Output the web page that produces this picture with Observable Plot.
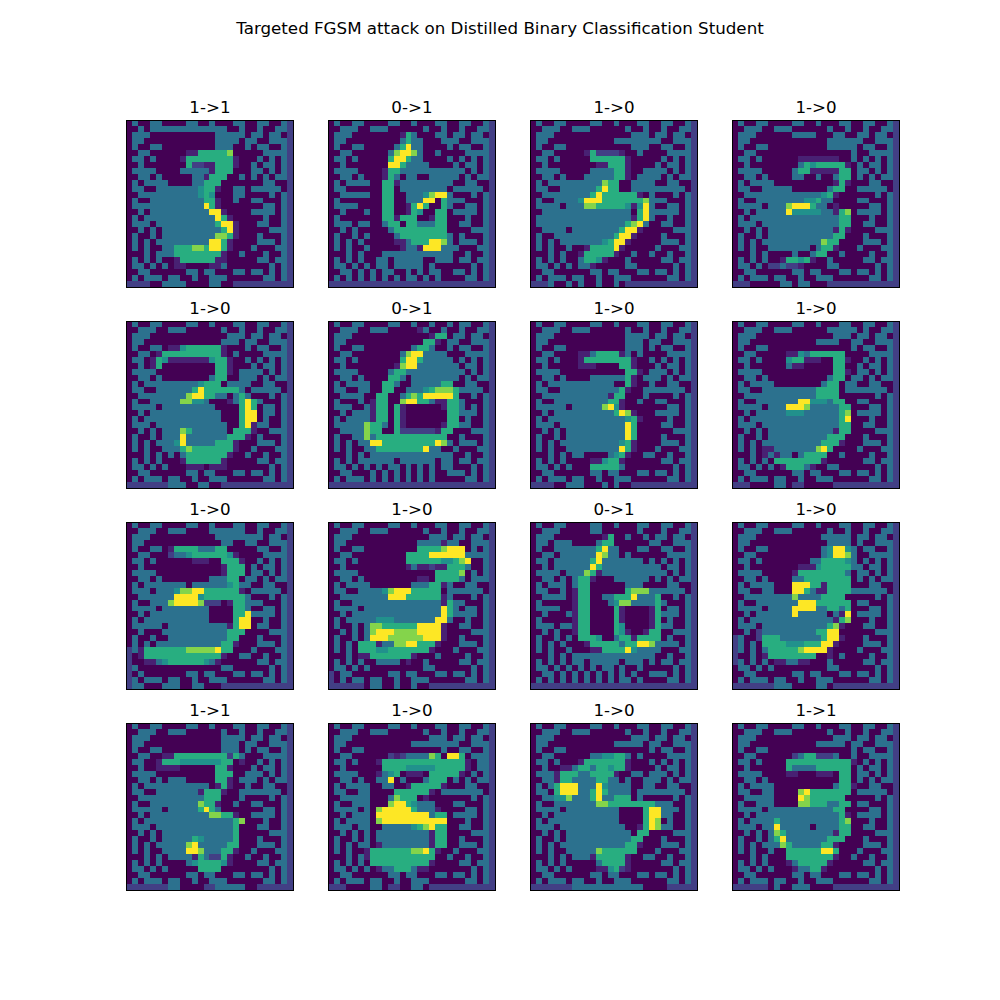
<!DOCTYPE html>
<html><head><meta charset="utf-8">
<script src="https://cdn.jsdelivr.net/npm/d3@7"></script>
<script src="https://cdn.jsdelivr.net/npm/@observablehq/plot@0.6"></script>
<style>
body{margin:0;background:#fff;font-family:"DejaVu Sans",sans-serif;}
#wrap{position:relative;width:1000px;height:1000px;}
#title{position:absolute;top:18px;left:0;width:1000px;text-align:center;font-size:16.7px;line-height:20px;color:#000;}
</style></head><body>
<div id="wrap"><div id="title">Targeted FGSM attack on Distilled Binary Classification Student</div><div id="chart"></div></div>
<script>
// panel titles (true -> targeted)
const titles = ["1->1","0->1","1->0","1->0","1->0","0->1","1->0","1->0","1->0","1->0","0->1","1->0","1->1","1->0","1->0","1->1"];
// pixel value codes (perturbed image value)
const codes = {".":-0.3,"p":-0.15,"n":0,"t":0.3,"s":0.5,"g":0.7,"l":1.0,"y":1.3};

const img1 = [
".t..tt. ...tt.. t...tt. .tt..tn",
"..t.ttt ttttttt ttt..t. .t..ttn",
".ttt... ....... .ttttt. tt.tt.n",
".tt.... ....... .tttt.t t..tttn",
".t..tt. ....... .ttt..t .tt..tn",
"..tt... ...ppgg gggl... ..ttttn",
".tt.t.. ..pgggg ggggp.. .t.t.tn",
"..t.... ...gnnp pgggp.. t.tt.tn",
".tttt.. ..ttttt pggg... tt.t.tn",
"..tt.t. ....ttp ggg..t. t.t.ttn",
".t.tttt ....ttg gg..... ..tt..n",
".tt..tt tttttsg gp..tt. ttttt.n",
"..ttttt tttttsg s...tt. ...t.tn",
".t..ttt ttttttg gp..t.. tt...tn",
".tttttt tttttty gp..... ..tt.tn",
"..t.ttt ttttttt yyp.... tttt.tn",
".t.tttt ttttttt tygp... ..t..tn",
".ttt.tt ttttttt tgyyp.. .tt..tn",
"..t.t.t ttttttt ttgyp.. ...tttn",
".t..t.t ttttttt tllgp.. .t...tn",
".t.t.tt ttttttt yygp... .ttt.tn",
".t.t..t tgggllg yygp... t...ttn",
"...t.tt tgggggg ggp..t. ..t..tn",
".t.t.t. .pggggg gpp.... .tt.ttn",
".tt.t.t .pp.... ppt.... ...t.tn",
"..tt... ...tt.t t...tt. tt.t.tn",
".t.ttt. tt..t.. ttt.... ..tt.tn",
"nnnn..t ttt.... tt..nnn nnnnnnn"];

const img2 = [
".t..tt. ...tt.. t...tt. .tt..tn",
"..ttt.. ttt.... ..t..t. .t..ttn",
".ttt... .....pg t...tt. tt.tt.n",
".tt.... .....tg tt...tt t..tttn",
".t..tt. ....tgy tt....t .tt..tn",
"..tt... ...tlyy lt..t.. ..ttttn",
".tt.t.. ...gyyg tt....t .t.t.tn",
"..t.... ...yygt ttt.... t.tt.tn",
".tttt.. ..pggtt ttttttt tt.t.tn",
"..tt.t. ..pgt.t t..tttt t.t.ttn",
".t.tttt ..ggptt ttttttt ..tt..n",
".tt.... ..gg.tt tttttt. ttttt.n",
"..ttttt ..gg..t ttslyyt ...t.tn",
".t..... ..gg..t ttyy.gt tt...tn",
".tttt.. ..gg..p gyg..gt ..tt.tn",
"..t...t ..gg..p gs..gg. tttt.tn",
".t..... ..ggpgg g..pgg. ..t..tn",
".ttt.tt ..tgg.g gtttgg. .tt..tn",
"..t.t.. ...tggg gggggg. ...tttn",
".t..t.t ....tgg ggggggt .t...tn",
".t.t.t. ....ppt gggyylt .ttt.tn",
".t.t..t .....pt tpyyytt t...ttn",
"...t.t. ..ttttt ttttttt ..t..tn",
".t.t.t. .tt.ttt tt..ttt .tt.ttn",
".tt.t.t .tt.ttt tt.t... ...t.tn",
"..tt.t. t.tt..t .t.tt.. tt.t.tn",
".t.t.t. t.t.t.t t.t.t.. ..tt.tn",
"nnnnnnn nnnnnnn nnnnnnn nnnnnnn"];

const img3 = [
".t..tt. ...tt.. t...tt. .tt..tn",
"..ttt.. ttt.... ..t..t. .t..ttn",
".ttt... ....... ...ttt. tt.tt.n",
".tt.... ....... ttttttt t..tttn",
".t..tt. ....... ...ttt. .tt..tn",
"..tt... ..pgnnn np..t.. ..ttttn",
".tt.t.. ...gggg ggp.... .t.t.tn",
"..t.... ....ppg ggp.... t.tt.tn",
".tttt.. ...tttt ggp..tt tt.t.tn",
"..tt.t. ..ttttt ggp.ttt t.t.ttn",
".t.tttt tttttlg g..tttt ..tt..n",
".tt..tt ttttgyg g..tttt ttttt.n",
"..ttttt tttgygg ggggp.t ...t.tn",
".t..ttt tsyyygg ggggglt tt...tn",
".tttt.t ttllggg ggspsyt ..tt.tn",
"..ttttt ttttttt ttt.gyt tttt.tn",
".tttttt ttttttt tttpgyt ..t..tn",
".tttttt ttttttt ttglyt. .tt..tn",
"..tttt. ttttttt tgyyp.. ...tttn",
".t..ttt ttttttt gyyp... .t...tn",
".t.t.tt tttttsg yyp.... .ttt.tn",
".t.t..t ..pgggg yp..... t...ttn",
"...t.t. .pggggg p..t..t ..t..tn",
".t.t.t. .tggsp. ..t.... .tt.ttn",
".tt.t.t .ttp... ..tt... ...t.tn",
"..tt... ...tt.t t...tt. tt.t.tn",
".t.ttt. tt..t.. ttt.... ..tt.tn",
"nnnt..t .t..t.. t.nnnnn nnnnnnn"];

const img4 = [
".t..tt. ...tt.. t...tt. .tt..tn",
"..ttt.. ttt.... ..t..t. .t..ttn",
".ttt... ...tttt ...tt.. tt.tt.n",
".tt.... ....... ..ttttt t..tttn",
".t..tt. ....... ..ttttt .tt..tn",
"..tt... ....... ......t ..ttttn",
".tt.t.. ....ppp pppp..t .t.t.tn",
"..t.... ....tgs gggggp. t.tt.tn",
".tttt.. ...tggp ppppgg. tt.t.tn",
"..tt.t. ...tt.. t..tgg. t.t.ttn",
".t.tttt ....... ...pgp. ..tt..n",
".tt..tt ttt.... ..tgg.. ttttt.n",
"..ttttt ttttttt tsgp... ...t.tn",
".t..ttt tttttss gtt.... tt...tn",
".tttt.t ttlyyyg tt.p... ..tt.tn",
"..t.ttt ttyssss sttpgl. tttt.tn",
".t.tttt ttttttt ttttgg. ..t..tn",
".ttt.tt ttttttt ttttgg. .tt..tn",
"..t.t.t ttttttt tttpgp. ...tttn",
".t..t.t ttttttt tttgg.. .t...tn",
".t.t.tt ttttttt tlgg... .ttt.tn",
".t.t..t tttttt. tggp... t...ttn",
"...t.t. ...t..t gg..t.. ..t..tn",
".t.t.t. .pggsgp ..t.... .tt.ttn",
".tt.t.n ntnnp.. ..tt... ...t.tn",
"..tt... ...tt.t t...tt. tt.t.tn",
".t.ttt. tt..t.. ttt.... ..tt.tn",
"nnn.... .tt.tt. ..nnnnn nnnnnnn"];

const img5 = [
".t..tt. ...tt.. t...tt. .tt..tn",
"..ttt.. ttt.... ..t..t. .t..ttn",
".ttt... ....... ...ttt. tt.tt.n",
".tt.... ....... ..ttt.t t..tttn",
".t..tt. ppsgggg ggp...t .tt..tn",
"..tt.pg ggggggg ggp.t.. ..ttttn",
".tt.pgs ppppppp sggp..t .t.t.tn",
"..t.pg. ....... .ggp... t.tt.tn",
".tttt.. ....... .ggp.tt tt.t.tn",
"..tt.t. ....... tgg..tt t.t.ttn",
".t.tttt tttttsg gg.tttt ..tt..n",
".tt..tt ttttgyg gggggt. ttttt.n",
"..ttttt tttlyyg gtt.tgt ...t.tn",
".t..ttt ttllsst ...ptgy gt...tn",
".tttt.t ttttttt t....gy g.tt.tn",
"..t.ttt ttttttt tt...gy y.tt.tn",
".t.tttt ttttttt tt...gy y.t..tn",
".ttt.tt ttttttt ttt..gy ptt..tn",
"..t.t.t ttlgttt ttt.ggg p..tttn",
".t..t.t ttytttt tttgggp .t...tn",
".t.t.tt tsytttt tgggp.. .ttt.tn",
".t.t..t ttglggg ggggp.. t...ttn",
"...t.t. t.tgggg gggp..t ..t..tn",
".t.t.t. ..pgggg ggp.... .tt.ttn",
".tt.t.t ...ppp. ppp.... ...t.tn",
"..tt... ...tt.t t...tt. tt.t.tn",
".t.ttt. tt..t.. ttt.... ..tt.tn",
"nnnnnnn ttt..tt ..nnnnn nnnnnnn"];

const img6 = [
".t..tt. ...tt.. t..t..t .tt..tn",
"..ttt.. ttt.... .pt..t. .t..ttn",
".ttt... ....... ...pgg. tt.tt.n",
".tt.... ....... ..ggp.t t..tttn",
".t..tt. ....... tggt..t .tt..tn",
"..tt... .....tl yytttt. ..ttttn",
".tt.t.. .....gy ygttttt .t.t.tn",
"..t.... ....ply ytttttt t.tt.tn",
".tttt.. ...tggt ttttttt tt.t.tn",
"..tt.t. ...ggt. ttttttt t.t.ttn",
".t.tttt ..ggt.. tttttgg ..tt..n",
".tt..tt ..gg..t ttsglll gtttt.n",
"..tttt. .gg..tg lgyyyyy g..t.tn",
".t...t. pgg..ly yggtppg gt...tn",
".ttt..t pgg.gp. .....pg gt.t.tn",
"..t.ttt pgg.gp. ......g gttt.tn",
".t.tttt pgg.gp. ......g g.t..tn",
".tttttl ggt.gp. .....pg gtt..tn",
"..ttttl gg..gnn nnnnpgg ...tttn",
".t..ttl tgggggg gggggg. .t...tn",
".t.t.tt yyggggg ggggylt .ttt.tn",
".t.t..t tgggggg ggytt.. t...ttn",
"...t.t. ttttttt ttttttt ..t..tn",
".t.t.tt tttt.tt tttt.tt .tt.ttn",
".tt.t.t .t.tt.t .t.t.tt ...t.tn",
"..tt... t.t.t.t .t.t..t tt.t.tn",
".t.ttt. t.t.t.t .t.t... ..tt.tn",
"nnnnnnn nnnnnnn nnnnnnn nnnnnnn"];

const img7 = [
".t..tt. ...tt.. t...tt. .tt..tn",
"..ttt.. ttt.... ..t..t. .t..ttn",
".ttt... ....... ..tttt. tt.tt.n",
".tt.... ....... ..ttt.t t..tttn",
".t..tt. ....... ..ttt.t .tt..tn",
"..tt... .pptggg gpt.t.. ..ttttn",
".tt.t.. .pggggg gggp..t .t.t.tn",
"..t.... .ppp... .ggp... t.tt.tn",
".tttt.. ....... ..ggp.t tt.t.tn",
"..tt.t. ...tttt ttgp.tt t.t.ttn",
".t.tttt ttttttt ..gp..t ..tt..n",
".tt..tt ttttttt tgp..tt ttttt.n",
"..ttttt ttttttp gg...t. ...t.tn",
".t..ttt ttttttg gp..t.. tt...tn",
".ttttt. tttttly sp..... ..tt.tn",
"..t.ttt ttttttt gylp... tttt.tn",
".t.tttt ttttttt ttsgp.. ..t..tn",
".ttt.tt ttttttt ttyg... .tt..tn",
"..t.t.t ttttttt ttyg... ...tttn",
".t..t.t ttttttt ttyg... .t...tn",
".t.t.tt ttttttt tsgp... .ttt.tn",
".t.t..t ttttttt tygp... t...ttn",
"...t.t. tt....t sgp..tt ..t..tn",
".t.t.t. ...ppsg gp..... .tt.ttn",
".tt.t.t ...gggg gt..... ...t.tn",
"..tt... ...tt.t t...tt. tt.t.tn",
".t.ttt. tt..t.. ttt.... ..tt.tn",
"nnnn..t tt...t. t..nnnn nnnnnnn"];

const img8 = [
".t..tt. ...tt.. t...tt. .tt..tn",
"..ttt.. ttt.... ..ttttt .t..ttn",
".ttt... ....... ...ttt. tt.tt.n",
".tt.... ....... tttt..t t..tttn",
".t..tt. ....... ......t .tt..tn",
"..tt... ..ppstg ggggg.. ..ttttn",
".tt.t.. ..sggpp p..ggp. .t.t.tn",
"..t.... ..tpp.. ...gg.. t.tt.tn",
".tttt.. ....... ...ggp. tt.t.tn",
"..tt.t. ....... ..tgg.t t.t.ttn",
".t.tttt ....... .tgg.tt ..tt..n",
".tt..tt ttttttt gggg.tt ttttt.n",
"..ttttt ttttttt gggg... ...t.tn",
".t..ttt ttttyys sstgg.. tt...tn",
".tttt.t ttyyylt ttttgg. ..tt.tn",
"..t.ttt ttssstt ttttgl. tttt.tn",
".t.tttt ttttttt ttttgy. ..t..tn",
".ttt.tt ttttttt ttttgg. .tt..tn",
"..t.t.t ttttttt tttpgg. ...tttn",
".t..t.t ttttttt ttggg.. .t...tn",
".t.t.tt ttttttt tgggp.. .ttt.tn",
".t.t.pp ttttttt lyg.... t...ttn",
"...t.pt ptt.tgg gg..t.. ..t..tn",
".t.t.t. ggggggg gp..... .tt.ttn",
".tt.t.t .pgggtp ..tt... ...t.tn",
"..tt... ...tt.t t...tt. tt.t.tn",
".t.ttt. tt..t.. ttt.... ..tt.tn",
"nnn.... tt.nn.. ...nnnn nnnnnnn"];

const img9 = [
".t..tt. ...tt.. t...tt. .tt..tn",
"..ttt.. ttt.... tttttt. .t..ttn",
".ttt... ....... .tttttt tt.tt.n",
".tt.... ....... ..tt..t t..tttn",
".t..tt. pggggtt tgg.... .tt..tn",
"..tt... nttsggg gggsp.. ..ttttn",
".tt.t.. ....ppp ..gggp. .t.t.tn",
"..t.... ....... ..pggg. t.tt.tn",
".tttt.. ....... ..pggg. tt.t.tn",
"..tt.t. ....... tttgg.t t.t.ttn",
".t.tttt ttt.ttt tttsgtt ..tt..n",
".ttt.tt tsllyyg gggggp. ttttt.n",
"..ttttt tyyyysg ggggggt ...t.tn",
".t..ttt lyyyyln nn.pggt tt...tn",
".tttt.t ttttttt ....ggt ..tt.tn",
"..t.ttt ttttttt ....ggy tttt.tn",
".t.tttt ttttttt ....gyy ..t..tn",
".ttttt. ttttttt tttpgyy .tt..tn",
"..t...t ttttttt tttggg. ...tttn",
".t..t.. ttttttt tttgg.. .t...tn",
".t.t.tt ttttttt ttggp.. .ttt.tn",
"ntpgggg gggllll lygg... t...ttn",
"n.pgggg ggggggg ggp..tt ..t..tn",
"n..ppts ggggggs tp..... .tt.ttn",
"nt..... ....... ..tt... ...t.tn",
"n.t.... ...tt.t t...tt. tt.t.tn",
"nt.ttt. tt..t.. ttt.... ..tt.tn",
"ntt...t tt..tt. ..nnnnn nnnnnnn"];

const img10 = [
".t..tt. ...tt.. t...tt. .tt..tn",
"..ttt.. ttt.... ..t..t. .t..ttn",
".ttt... ....... ...ttt. tt.tt.n",
".tt.... ....... .ttttpt t..tttn",
".t..tt. ....... .ggggly yy.t.tn",
"..tt... ......g gggyyyy yyttttn",
".tt.t.. ......g gggggss gly..tn",
"..t.... ......p tppnppg ggt..tn",
".tttt.. ....... ....ggg gl.t.tn",
"..tt.t. ....... .pp.ggg gt.tttn",
".t.tttt ....... tttggpt ..tt..n",
".tt..tt ttslyyy ggggg.t ttttt.n",
"..ttttt tttyyyg gggggpt ...t.tn",
".t..ttt ttttttt tttttpg tt...tn",
".tttt.t ttttttt tttttyg t.tt.tn",
"..t.ttt ttttttt tttttyg tttt.tn",
".t.tttt tsssttt ttttyyt ..t..tn",
".t..t.t llggggg gyyyyp. .tt..tn",
"..t.t.t lyyylll lyyyyp. ...tttn",
".t..t.t yyyllll llyyyp. .t...tn",
".t.t.gg gpttlly ygggp.. .ttt.tn",
".t.t.gg gssgggg gggp... t...ttn",
"...t.pp ggggggg p...t.. ..t..tn",
".t.t.t. .tttt.p ..t.... .tt.ttn",
".tt.t.t ....... ..tt... ...t.tn",
"n.tt... ...tt.t t...tt. tt.t.tn",
"n.t.tt. tt..t.. ttt.... ..tt.tn",
"nnnnnn. tt..t.. t..nnnn nnnnnnn"];

const img11 = [
".t..tt. ...tt.. t...tt. .tt..tn",
"..ttt.. ...tt.. ....t.. .t..ttn",
".ttt... .....pg ..t..t. tt.tt.n",
".tt.ttt ....tgg ......t t..tttn",
".t..ttt ttttgyt t...tt. .tt..tn",
"..tt.tt ttttylt t.t.... ..ttttn",
".tt.ttt tttgytt ttttt.t .t.t.tn",
"..t.ttt tttygtt ttttttt t.tt.tn",
".tttt.t ttlgptt ttttttt tt.t.tn",
"..tt.t. tggp... tttttt. t.t.ttn",
".t.ttt. tgg.... ..ttt.. ..tt..n",
".tt..t. pgg.... ..glllt ttttt.n",
"..tttt. pgg..tt gggyttt g..t.tn",
".t..... pgg...t slltttt gt...tn",
".tttt.. pgg.... gp....p g.tt.tn",
"..t...t pgg.... gp....p gttt.tn",
".t..... pgg.... gp....p g.t..tn",
".ttt.tt pgg.... gs....p gtt..tn",
"..t.t.. pgg.... gsp..pg g..tttn",
".t..t.t .gggs.. tggpggg g.t..tn",
".t.t.t. ..pgggg gtggyyl tttt.tn",
".t.t..t ...ppgg ggysttt t...ttn",
"...t.t. ttttttt ttttttt ..t..tn",
".t.t.t. tt.tttt t.ttt.t .tt.ttn",
".tt.t.t .t.t.tt .t..t.. ...t.tn",
"..tt.t. t.t.t.t .t.t..t tt.t.tn",
".t.t.t. t.t.t.t .tt.t.. ..tt.tn",
"nnnnnnn nnnnnnn nnnnnnn nnnnnnn"];

const img12 = [
".t..tt. ...tt.. t...tt. .tt..tn",
"..ttt.. ttt.... ..t..t. .t..ttn",
".ttt... ....... .ttttt. tt.tt.n",
".tt.... ....... ..tttt. t..tttn",
".t..tt. ....... .tsyyst .tt..tn",
"..tt... ....... .tsyylt ..ttttn",
".tt.t.. ......t tggggst .t.t.tn",
"..t.... ....ppp sgggggt t.tt.tn",
".tttt.. ...pggg gggggt. tt.t.tn",
"..tt.t. ...ttgg gggggg. t.t.ttn",
".t.tttt ...yyyg gpgggg. ..tt..n",
".tt..tt ...yygt ppggggt ttttt.n",
"..ttttt tttlttt tgggg.. ...t.tn",
".t..ttt ttttyyy gggggg. tt...tn",
".tttt.t tttyyyy ttggtg. ..tt.tn",
"..t.ttt tttyttt tt.tpy. tttt.tn",
".t.tttt ttttttt tttpgl. ..t..tn",
".ttt.tt ttttttt ttglp.. .tt..tn",
"..t.ntt ttttttt ggyy... ...tttn",
"nt..ngg gtttttt tgyyp.. .t...tn",
"nt.t.gg ggsssgg gyyp... .ttt.tn",
"nt.t.tg gggglyy yyp.... t...ttn",
"n..t.pg ggggggg ..p.t.. ..t..tn",
"nt.t.t. ppttpp. ..t.... .tt.ttn",
".tt.t.t ....... ..tt... ...t.tn",
"..tt... ...tt.t t...tt. tt.t.tn",
".t.ttt. tt..t.. ttt.... ..tt.tn",
"nnnnnnn ttt.... tt.nnnn nnnnnnn"];

const img13 = [
".t..tt. ...tt.. t...tt. .tt..tn",
"..ttt.. ttt.... ..t..t. .t..ttn",
".ttt... ....... ..tttt. tt.tt.n",
".tt.... ....... ..ttt.t t..tttn",
".t..tt. ....... ..ttt.t .tt..tn",
"..tt..p pgggggg gggngt. ..ttttn",
".tt..pg ggsssss ssgg.p. .t.t.tn",
"..t..pp pp..... .ggp... t.tt.tn",
".tttt.. ....... .ggg..t tt.t.tn",
"..tt.t. ttt.... .ggp.tt t.t.ttn",
".t.tttt ttttttt .pgp..t ..tt..n",
".tt..tt tttttpg ggp..tt ttttt.n",
"..ttttt ttttttg gg...t. ...t.tn",
".t..ttt tttttlg gp..t.. tt...tn",
".ttttt. tttttgy gt..... ..tt.tn",
"..t.ttt ttttttt llggp.. tttt.tn",
".t.tttt ttttttt ttttgl. ..t..tn",
".ttt.tt ttttttt ttttg.. .tt..tn",
"..t.t.t ttttttt ttttg.. ...tttn",
".t..t.t ttttgst ttttg.. .t...tn",
".t.t.tt tttlytt tttgg.. .ttt.tn",
".t.t..t tttyylt ttggp.. t...ttn",
"...t.t. ttttpgt nngp..t ..t..tn",
".t.t.t. ...tsgg ggsp... .tt.ttn",
".tt.t.t .....gg gg..... ...t.tn",
"..tt... ...tt.t t...tt. tt.t.tn",
".t.ttt. tt..t.. ttt.... ..tt.tn",
"nnnnnnn tt....n nttttt. .nnnnnn"];

const img14 = [
".t..tt. ...tt.. t...tt. .tt..tn",
"..ttt.. ttt.... ..t..t. .t..ttn",
".ttt... ....... ...ttt. tt.tt.n",
".tt.... ....... ttttttt t..tttn",
".t..tt. ....... .....t. .tt..tn",
"..tt... ...npnt tttlg.y yg.tttn",
".tt.t.. .pggggg ggggggg ggp.ttn",
"..t.... ..ggggs ssssggg ggp.ttn",
".tttt.. .ptsg.p pp.gggg gp.t.tn",
"..tt.t. .tty.t. ..tggg. t.t.ttn",
".t.tttt ..tt..p gggggp. ..tt..n",
".tt..tt ....ggg gggp.tt ttttt.n",
"..ttttt ...tlgg g.p.... ...t.tn",
".t..ttt ...lyyg sttt... tt...tn",
".tttt.t .lyyyyy gtttp.. ..tt.tn",
"..t.ttt .yyyyyy yyytgg. tttt.tn",
".t.tttt .lyyyyy yyyyyy. ..t..tn",
".ttt.tt ..ttttt sglygg. .tt..tn",
"..t.t.t .tttttt tttpgg. ...tttn",
".t..t.t .tttttt tttpgg. .t...tn",
".t.t.tt .pttttt tttpgg. .ttt.tn",
".t.t..p ggggggg llygp.. t...ttn",
"...t.tp ggggggg gggg..t ..t..tn",
".t.t.t. ggggggg gggp... .tt.ttn",
".tt.t.t .pttggg tpp.... ...t.tn",
"..tt... ...tt.t t...tt. tt.t.tn",
".t.ttt. tt..t.. ttt.... ..tt.tn",
"nnn.... tt.nn.. tt.nnnn nnnnnnn"];

const img15 = [
".t..tt. ...tt.. t...tt. .tt..tn",
"..ttt.. ttt.... ..t..t. .t..ttn",
".ttt... ....... ...ttt. tt.tt.n",
".tt.... ....... ttttt.t t..tttn",
".t..tt. ....... ......t .tt..tn",
"..tt... ...ttss ggt.t.. ..ttttn",
".tt.t.. .pggggg ggp...t .t.t.tn",
"..t..pp tggtggs ggp.... t.tt.tn",
".tttpgg gttgggg p..tt.t tt.t.tn",
"..ttpgg ttttggt t.t..tt t.t.ttn",
".t.tgyy ytttyst ttt..tt ..tt..n",
".tt.gyy yttgygt ttt.ttt ttttt.n",
"..ttssl tttgytt ggg.t.. ...t.tn",
".t..ttt ttttllg ggggggg ttt..tn",
".tttt.t ttttttt t....gy yttt.tn",
"..t.ttt ttttttt t....gy ytt..tn",
".t.tttt ttttttt t....gy l.t..tn",
".ttt.tt ttttttt tt..pgy ltt..tn",
"..t.t.t ttttttt ttt.gg. ...tttn",
".t..t.t ttttttt tttgg.. .t...tn",
".t.t.tt ttttttt ttggp.. .ttt.tn",
".t.t..t ttttlgg gggg... t...ttn",
"...t.t. tttpggg ggp..tt ..t..tn",
".t.t.t. ....tgg ggp.... .tt.ttn",
".tt.t.t ....pps gnp.... ...t.tn",
"..tt... ...tt.t t...tt. tt.t.tn",
".t.ttt. tt..t.. ttt.... ..tt.tn",
"nnnnnnn ttttttt ttttt.. ..nnnnn"];

const img16 = [
".t..tt. ...tt.. t...tt. .tt..tn",
"..ttt.. ttt.... ..t..t. .t..ttn",
".ttt... ....... ...ttt. tt.tt.n",
".tt.... ....... ttttt.t t..tttn",
".t..tt. ....... ......t .tt..tn",
"..tt... ...ntgg nnnt..t ..ttttn",
".tt.t.. ..ggggg ggggggp .t.t.tn",
"..t.... ..gtttt gggggg. t.tt.tn",
".tttt.. ..pp... ppp.gg. tt.t.tn",
"..tt.t. ....... ....gg. t.t.ttn",
".t.tttt ....... ...tggp ..tt..n",
".tt..tt ....lyg gggggg. ttttt.n",
"..ttttt ....ylg ggggg.. ...t.tn",
".t..ttt ....llg ggttgg. tt...tn",
".tttt.t ttttttt tttgg.. ..tt.tn",
"..t.ttt ttttttt ttttgp. tttt.tn",
".t.tttt gtttttt ttttgl. ..t..tn",
".ttt.tt yttttt. ttttgg. .tt..tn",
"..t.t.t lgttttt tttpgg. ...tttn",
".t..t.t gyttttt ttggg.. .t...tn",
".t.t.tt tlgtttt tggp... .ttt.tn",
".t.t..t ..ggggg gyyg... t...ttn",
"...t.t. ..ggggg gggp..t ..t..tn",
".t.t.t. ..ptggg ggp.... .tt.ttn",
".tt.t.t ...pttg gp..... ...t.tn",
"..tt... ...tt.t t...tt. tt.t.tn",
".t.ttt. tt..t.. ttt.... ..tt.tn",
"nnnnnn. t..ttt. ...nnnn nnnnnnn"];

const images = [img1,img2,img3,img4,img5,img6,img7,img8,img9,img10,img11,img12,img13,img14,img15,img16];

const cells = [];
images.forEach((rows, k) => {
  rows.forEach((row, r) => {
    const s = row.replace(/ /g, "");
    for (let c = 0; c < 28; c++) {
      const v = codes[s[c]];
      cells.push({fx: k % 4, fy: Math.floor(k / 4), col: c, row: r, v: v === undefined ? -0.3 : v});
    }
  });
});
const titleData = titles.map((t, k) => ({fx: k % 4, fy: Math.floor(k / 4), t}));

const plot = Plot.plot({
  width: 1000, height: 1000,
  marginLeft: 126, marginRight: 101, marginTop: 120, marginBottom: 110,
  style: {fontFamily: "DejaVu Sans", background: "#fff"},
  fx: {domain: [0,1,2,3], paddingInner: 0.1733, paddingOuter: 0, round: false, axis: null},
  fy: {domain: [0,1,2,3], paddingInner: 0.1692, paddingOuter: 0, round: false, axis: null},
  x: {domain: d3.range(28), padding: 0, round: false, axis: null},
  y: {domain: d3.range(28), padding: 0, round: false, axis: null},
  color: {type: "linear", scheme: "viridis", domain: [-0.3, 1.3]},
  marks: [
    Plot.cell(cells, {fx: "fx", fy: "fy", x: "col", y: "row", fill: "v", shapeRendering: "crispEdges"}),
    Plot.frame({stroke: "black", strokeWidth: 1}),
    Plot.text(titleData, {fx: "fx", fy: "fy", text: "t", frameAnchor: "top", lineAnchor: "bottom", dy: -8, fontSize: 16.7, fill: "black"})
  ]
});
document.getElementById("chart").appendChild(plot);
</script>
</body></html>
